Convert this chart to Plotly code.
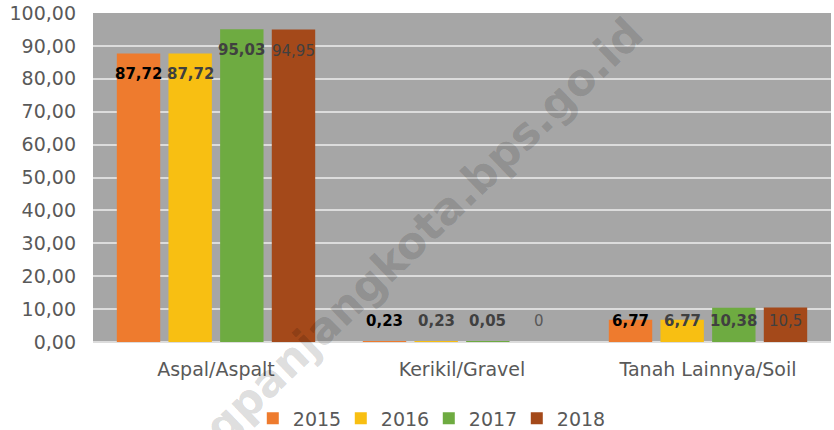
import plotly.graph_objects as go

categories = ["Aspal/Aspalt", "Kerikil/Gravel", "Tanah Lainnya/Soil"]
years = ["2015", "2016", "2017", "2018"]
values = {
    "2015": [87.72, 0.23, 6.77],
    "2016": [87.72, 0.23, 6.77],
    "2017": [95.03, 0.05, 10.38],
    "2018": [94.95, 0.0, 10.5],
}
label_text = {
    "2015": ["87,72", "0,23", "6,77"],
    "2016": ["87,72", "0,23", "6,77"],
    "2017": ["95,03", "0,05", "10,38"],
    "2018": ["94,95", "0", "10,5"],
}
colors = {"2015": "#EE7B2E", "2016": "#F8BF12", "2017": "#6EAB41", "2018": "#A4491A"}
label_colors = {"2015": "#000000", "2016": "#404040", "2017": "#404040", "2018": "#404040"}
label_bold = {"2015": True, "2016": True, "2017": True, "2018": False}

fig = go.Figure()
for yr in years:
    fig.add_trace(go.Bar(
        name=yr, x=categories, y=values[yr],
        marker=dict(color=colors[yr], line=dict(width=0)),
        offsetgroup=yr,
    ))

BARGAP = 0.16
fig.update_layout(
    barmode="group", bargap=BARGAP, bargroupgap=0.16,
    width=834, height=430,
    margin=dict(l=93, r=3, t=13, b=88, autoexpand=False),
    plot_bgcolor="#A6A6A6", paper_bgcolor="white",
    separators=",.",
    font=dict(family="DejaVu Sans", size=19, color="#595959"),
    showlegend=True,
    legend=dict(orientation="h", x=0.455, xanchor="center", y=-0.232, yanchor="middle",
                font=dict(size=19, color="#595959"), itemclick=False,
                entrywidth=43, entrywidthmode="pixels"),
)
fig.update_yaxes(range=[0, 100], dtick=10, tickformat=".2f", showgrid=True,
                 gridcolor="#DCDCDC", gridwidth=1.5, zeroline=True, zerolinecolor="#DCDCDC",
                 zerolinewidth=2, ticklabelstandoff=16, showline=False, automargin=False,
                 tickfont=dict(size=19, color="#595959"))
fig.update_xaxes(showgrid=False, ticklabelstandoff=14, automargin=False,
                 tickfont=dict(size=19, color="#595959"), showline=False)

# data labels (one per bar, placed near the bar top, or just above small bars)
n = len(years)
group_width = 1 - BARGAP
slot = group_width / n
for i, yr in enumerate(years):
    for j, cat in enumerate(categories):
        v = values[yr][j]
        ypos = max(v - 6.4, 6.4)
        xoff = -group_width / 2 + slot * (i + 0.5)
        fig.add_annotation(
            x=j + xoff, y=ypos, xref="x", yref="y", text=label_text[yr][j],
            showarrow=False, yanchor="middle", xanchor="center",
            font=dict(family="DejaVu Sans", size=15,
                      color=label_colors[yr] if (v > 0 or yr != "2018") else "#595959",
                      weight="bold" if label_bold[yr] else "normal"),
        )

# watermark
fig.add_annotation(
    x=0.373, y=0.179, xref="paper", yref="paper", text="padangpanjangkota.bps.go.id",
    showarrow=False, textangle=-44, xanchor="center", yanchor="middle",
    font=dict(family="DejaVu Sans", size=44, color="rgba(0,0,0,0.15)", weight="bold"),
)

fig.write_html("out.html", config={"displayModeBar": False},
               post_script="document.body.style.margin='0';")
